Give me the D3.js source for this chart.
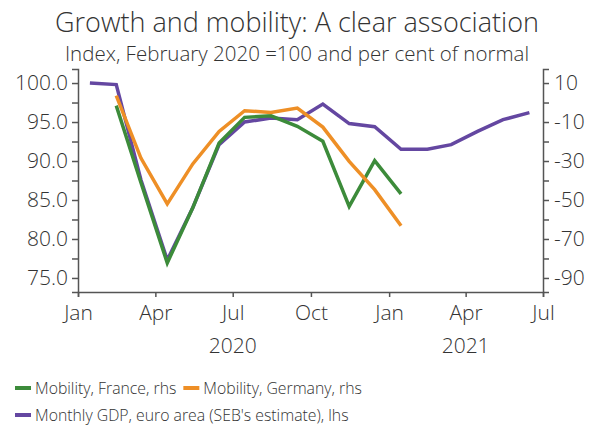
<!DOCTYPE html>
<html>
<head>
<meta charset="utf-8">
<script src="https://cdn.jsdelivr.net/npm/d3@7"></script>
<style>
	body { margin: 0; background: #fff; }
	svg text { font-family: "Open Sans", "Noto Sans", sans-serif; fill: #333; }
</style>
</head>
<body>
<svg id="chart" width="590" height="425"></svg>
<script>
// months (mid-month) the series are plotted at
var months = ["2020-01", "2020-02", "2020-03", "2020-04", "2020-05", "2020-06", "2020-07", "2020-08",
	"2020-09", "2020-10", "2020-11", "2020-12", "2021-01", "2021-02", "2021-03", "2021-04", "2021-05", "2021-06"];

// Monthly GDP, euro area, index Feb 2020 = 100 (lhs)
var gdpEuroArea = [100.0, 99.8, 87.6, 77.3, 84.0, 92.1, 95.0, 95.5, 95.3, 97.3, 94.8, 94.4, 91.5, 91.5, 92.1, 93.8, 95.3, 96.2];
// Mobility, per cent of normal (rhs), Feb 2020 - Jan 2021
var mobilityFrance = [null, -1.6, -41, -82.3, -54, -20.8, -7.6, -6.8, -12.2, -19.9, -53.3, -29.8, -46.9];
var mobilityGermany = [null, 3.5, -28.5, -52, -31.5, -14.8, -4.2, -5.1, -2.8, -12.6, -30.2, -44.7, -63.2];

var leftTicks = [75, 77.5, 80, 82.5, 85, 87.5, 90, 92.5, 95, 97.5, 100];
var rightTicks = [10, 0, -10, -20, -30, -40, -50, -60, -70, -80, -90];
var yearLabels = [{ label: "2020", at: "2020-07-01" }, { label: "2021", at: "2021-04-01" }];

var seriesInfo = [
	{ name: "Mobility, France, rhs", values: mobilityFrance, axis: "right", color: "#3c8b3a", z: 1 },
	{ name: "Mobility, Germany, rhs", values: mobilityGermany, axis: "right", color: "#ee8f26", z: 2 },
	{ name: "Monthly GDP, euro area (SEB's estimate), lhs", values: gdpEuroArea, axis: "left", color: "#6447a1", z: 0 }
];

var parseMonth = d3.timeParse("%Y-%m");
var parseDay = d3.timeParse("%Y-%m-%d");

function midMonth(m) {
	var d = parseMonth(m);
	return new Date(d.getFullYear(), d.getMonth(), 15);
}

function init() {
	draw();
}

function draw() {
	var svg = d3.select("#chart");

	var x = d3.scaleTime()
		.domain([new Date(2020, 0, 1), new Date(2021, 6, 1)])
		.range([78, 543]);
	var yLeft = d3.scaleLinear().domain([73.2, 101.8]).range([292, 69]);
	var yRight = d3.scaleLinear().domain([-97.2, 17.2]).range([292, 69]);

	// titles
	svg.append("text")
		.attr("x", 297).attr("y", 32)
		.attr("text-anchor", "middle")
		.style("font-size", "27px")
		.style("font-weight", 300)
		.text("Growth and mobility: A clear association");
	svg.append("text")
		.attr("x", 297).attr("y", 61)
		.attr("text-anchor", "middle")
		.style("font-size", "20.5px")
		.style("font-weight", 300)
		.text("Index, February 2020 =100 and per cent of normal");

	// left axis
	var leftAxis = svg.append("g").attr("transform", "translate(78,0)")
		.call(d3.axisLeft(yLeft).tickValues(leftTicks).tickSize(6).tickPadding(4)
			.tickFormat(function(d) { return d % 5 == 0 ? d3.format(".1f")(d) : ""; }));
	styleAxis(leftAxis);

	var rightAxis = svg.append("g").attr("transform", "translate(543,0)")
		.call(d3.axisRight(yRight).tickValues(rightTicks).tickSize(6).tickPadding(5)
			.tickFormat(function(d) { return Math.abs(d - 10) % 20 == 0 ? d : ""; }));
	styleAxis(rightAxis);

	var xAxis = svg.append("g").attr("transform", "translate(0,292)")
		.call(d3.axisBottom(x).ticks(d3.timeMonth.every(3)).tickSize(5).tickPadding(8)
			.tickFormat(d3.timeFormat("%b")));
	styleAxis(xAxis);

	svg.selectAll("text.year")
		.data(yearLabels)
		.enter()
		.append("text")
		.attr("class", "year")
		.attr("x", function(d) { return x(parseDay(d.at)); })
		.attr("y", 353)
		.attr("text-anchor", "middle")
		.style("font-size", "21px")
		.style("font-weight", 300)
		.text(function(d) { return d.label; });

	// lines, purple underneath
	var ordered = seriesInfo.slice();
	ordered.sort(function(a, b) { return a.z - b.z; });
	for (var ii = 0; ii < ordered.length; ++ii) {
		var s = ordered[ii];
		var yScale = s.axis == "left" ? yLeft : yRight;
		var pts = [];
		for (var jj = 0; jj < s.values.length; ++jj) {
			if (s.values[jj] != null) {
				pts.push({ date: midMonth(months[jj]), value: s.values[jj] });
			}
		}
		var line = d3.line()
			.x(function(d) { return x(d.date); })
			.y((function(sc) { return function(d) { return sc(d.value); }; })(yScale));
		svg.append("path")
			.datum(pts)
			.attr("fill", "none")
			.attr("stroke", s.color)
			.attr("stroke-width", 3.5)
			.attr("d", line);
	}

	drawLegend(svg);
}

function styleAxis(g) {
	g.select(".domain").attr("stroke", "#555").attr("stroke-width", 1.5);
	g.selectAll(".tick line").attr("stroke", "#555").attr("stroke-width", 1.5);
	g.selectAll(".tick text")
		.style("font-size", "21px")
		.style("font-weight", 300)
		.attr("fill", "#333");
}

function drawLegend(svg) {
	var items = svg.selectAll("g.legend")
		.data(seriesInfo)
		.enter()
		.append("g")
		.attr("class", "legend");
	items.append("line")
		.attr("x1", 0).attr("x2", 16)
		.attr("y1", 0).attr("y2", 0)
		.attr("stroke", function(d) { return d.color; })
		.attr("stroke-width", 4);
	items.append("text")
		.attr("x", 20).attr("y", 6)
		.style("font-size", "15.8px")
		.style("font-weight", 300)
		.text(function(d) { return d.name; });

	// two on the first row, the GDP one wraps to the second
	var firstWidth = items.filter(function(d, i) { return i == 0; }).select("text").node().getComputedTextLength();
	var positions = [{ x: 15, y: 388 }, { x: Math.max(182, 15 + 20 + firstWidth + 7), y: 388 }, { x: 15, y: 415 }];
	items.attr("transform", function(d, i) { return "translate(" + positions[i].x + "," + positions[i].y + ")"; });
}

init();
</script>
</body>
</html>
